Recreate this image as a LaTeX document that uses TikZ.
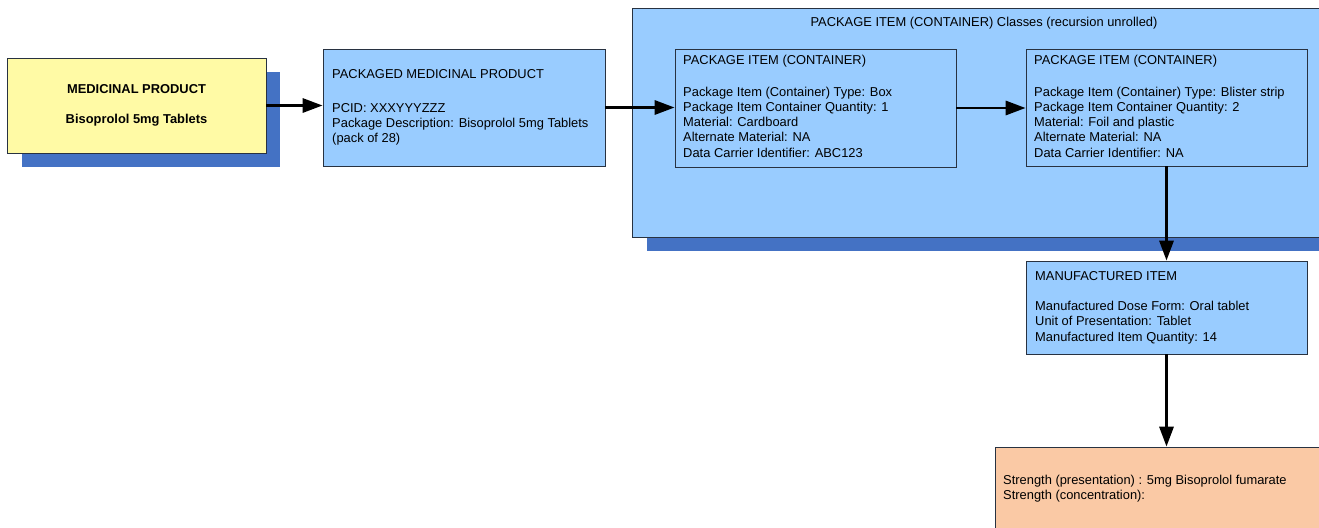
\documentclass[tikz,border=0pt]{standalone}
\usepackage{fontspec}
\setmainfont{Liberation Sans}
\usepackage{xcolor}
\usetikzlibrary{arrows.meta, positioning, calc, fit}
\definecolor{itemblue}{RGB}{153, 204, 255}
\definecolor{shadowblue}{RGB}{68, 114, 196}
\definecolor{productyellow}{RGB}{255, 250, 165}
\definecolor{strengthorange}{RGB}{250, 201, 165}
\definecolor{boxline}{RGB}{40, 50, 65}

\tikzset{
    box/.style={draw=boxline, line width=0.7pt, inner sep=0pt},
    bluebox/.style={box, fill=itemblue},
    shadowbox/.style={fill=shadowblue, inner sep=0pt},
    labeltext/.style={font=\fontsize{11}{13}\selectfont, align=left, anchor=north west, inner sep=0pt},
    flowarrow/.style={line width=2.4pt, -{Triangle[length=17pt, width=12pt]}}
}

\begin{document}
\begin{tikzpicture}[x=0.03cm, y=-0.03cm]
    \clip (0,0) rectangle (1319,527);
    \fill[white] (0,0) rectangle (1319,527);

    % Medicinal product
    \node[shadowbox, fit={(22,72) (280,167)}] (mpshadow) {};
    \node[box, fill=productyellow, fit={(7,58) (266,153)}] (mp) {};
    \node[labeltext, font=\fontsize{11}{13}\selectfont\bfseries, align=center, anchor=center] (mptext) at (mp.center) {MEDICINAL PRODUCT\\[13pt]Bisoprolol 5mg Tablets};

    % Packaged medicinal product
    \node[bluebox, fit={(323,49) (605,166)}] (pmp) {};
    \node[labeltext] (pmptext) at (332,69) {PACKAGED MEDICINAL PRODUCT\\[16pt]
        PCID: XXXYYYZZZ\\
        Package Description: Bisoprolol 5mg Tablets\\
        (pack of 28)};

    % Container classes
    \node[shadowbox, fit={(647,22) (1340,251)}] (pcshadow) {};
    \node[bluebox, fit={(632,8) (1330,237)}] (pc) {};
    \node[labeltext, anchor=center] (pctitle) at (984,23) {PACKAGE ITEM (CONTAINER) Classes (recursion unrolled)};

    \node[bluebox, fit={(675,49) (956,167)}] (pi1) {};
    \node[labeltext] (pi1text) at (683,55) {PACKAGE ITEM (CONTAINER)\\[14pt]
        Package Item (Container) Type: Box\\
        Package Item Container Quantity: 1\\
        Material: Cardboard\\
        Alternate Material: NA\\
        Data Carrier Identifier: ABC123};

    \node[bluebox, fit={(1026,49) (1307,166)}] (pi2) {};
    \node[labeltext] (pi2text) at (1034,55) {PACKAGE ITEM (CONTAINER)\\[14pt]
        Package Item (Container) Type: Blister strip\\
        Package Item Container Quantity: 2\\
        Material: Foil and plastic\\
        Alternate Material: NA\\
        Data Carrier Identifier: NA};

    % Manufactured item
    \node[bluebox, fit={(1026,261) (1307,354)}] (mi) {};
    \node[labeltext] (mitext) at (1035,271) {MANUFACTURED ITEM\\[13pt]
        Manufactured Dose Form: Oral tablet\\
        Unit of Presentation: Tablet\\
        Manufactured Item Quantity: 14};

    % Strength
    \node[box, fill=strengthorange, fit={(995,447) (1340,545)}] (str) {};
    \node[labeltext] (strtext) at (1003,475) {Strength (presentation) : 5mg Bisoprolol fumarate\\
        Strength (concentration):};

    % Arrows
    \draw[flowarrow] (mp.east) -- (mp.east -| pmp.west);
    \draw[flowarrow] (pmp.east) -- (pmp.east -| pi1.west);
    \draw[flowarrow] (pi1.east) -- (pi1.east -| pi2.west);
    \draw[flowarrow] (pi2.south) -- (pi2.south |- mi.north);
    \draw[flowarrow] (mi.south) -- (mi.south |- str.north);
\end{tikzpicture}
\end{document}
